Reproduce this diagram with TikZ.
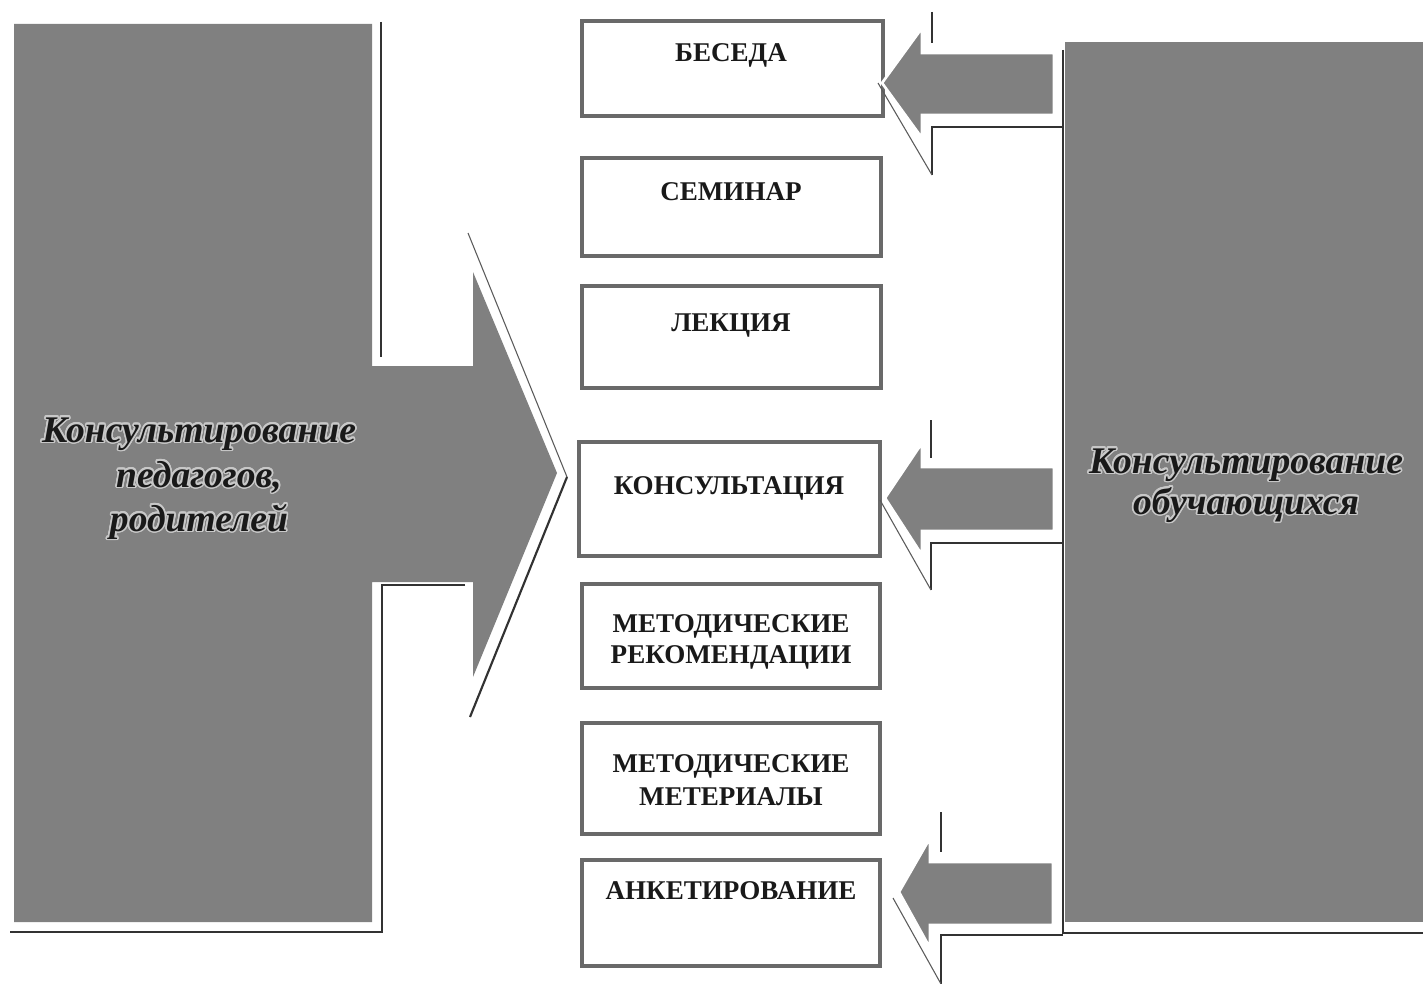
\documentclass[tikz,border=0pt]{standalone}
\usepackage{fontspec}
\setmainfont{Liberation Serif}
\usepackage{contour}
\contourlength{1.2pt}
\contournumber{24}
\definecolor{shapegray}{RGB}{128,128,128}
\definecolor{bordergray}{RGB}{105,105,105}
\definecolor{shadowdark}{RGB}{50,50,50}
\definecolor{labeltext}{RGB}{25,25,25}
\definecolor{glow}{RGB}{200,200,200}
\tikzset{
  bigshape/.style={fill=shapegray, draw=none},
  arrowshape/.style={fill=shapegray, draw=white, line width=2pt, line join=miter},
  shadowline/.style={draw=shadowdark, line width=1.6pt},
  thinshadow/.style={draw=shadowdark!80, line width=0.8pt},
  box/.style={draw=bordergray, line width=3pt, fill=white, inner sep=0pt, outer sep=0pt},
  boxtext/.style={font=\fontsize{20.3}{23}\selectfont\bfseries, anchor=base, inner sep=0pt, text=black!90},
  biglabel/.style={font=\fontsize{28.2}{32}\selectfont\bfseries\itshape, anchor=base, inner sep=0pt, text=labeltext}
}
\begin{document}
\begin{tikzpicture}[x=0.75pt, y=-0.75pt]
\useasboundingbox (0,0) rectangle (1423,984);
\fill[white] (0,0) rectangle (1423,984);

% ---------- left shape: shadow lines ----------
\draw[shadowline] (381,22) -- (381,357);
\draw[thinshadow] (468,233) -- (567,477);
\draw[shadowline] (567,477) -- (470,717);
\draw[shadowline] (465,585) -- (382,585) -- (382,932) -- (10,932);
% left shape
\path[bigshape] (14,24) -- (372,24) -- (372,366) -- (473,366) -- (473,272)
  -- (557,473) -- (473,677) -- (473,582) -- (372,582) -- (372,922) -- (14,922) -- cycle;

% ---------- right rectangle ----------
\draw[shadowline] (1063,50) -- (1063,933) -- (1423,933);
\path[bigshape] (1065,42) rectangle (1423,922);

% ---------- boxes ----------
\node[box, minimum width=225.75pt, minimum height=71.25pt] (b1) at (732.5,68.5) {};
\node[box, minimum width=224.25pt, minimum height=73.5pt] (b2) at (731.5,207) {};
\node[box, minimum width=224.25pt, minimum height=76.5pt] (b3) at (731.5,337) {};
\node[box, minimum width=225.75pt, minimum height=85.5pt] (b4) at (729.5,499) {};
\node[box, minimum width=223.5pt, minimum height=78pt] (b5) at (731,636) {};
\node[box, minimum width=223.5pt, minimum height=83.25pt] (b6) at (731,778.5) {};
\node[box, minimum width=223.5pt, minimum height=79.5pt] (b7) at (731,913) {};

\node[boxtext] (t1) at (731,62) {БЕСЕДА};
\node[boxtext] (t2) at (731,201) {СЕМИНАР};
\node[boxtext] (t3) at (731,331) {ЛЕКЦИЯ};
\node[boxtext] (t4) at (729,494) {КОНСУЛЬТАЦИЯ};
\node[boxtext] (t5a) at (731,632) {МЕТОДИЧЕСКИЕ};
\node[boxtext] (t5b) at (731,663) {РЕКОМЕНДАЦИИ};
\node[boxtext] (t6a) at (731,772) {МЕТОДИЧЕСКИЕ};
\node[boxtext] (t6b) at (731,805) {МЕТЕРИАЛЫ};
\node[boxtext] (t7) at (731,899) {АНКЕТИРОВАНИЕ};

% ---------- right arrows ----------
% arrow 1
\draw[shadowline] (932,12) -- (932,43);
\draw[shadowline] (1063,127) -- (932,127) -- (932,175);
\draw[thinshadow] (878,83) -- (932,175);
\path[arrowshape] (882,83) -- (922,28) -- (922,53) -- (1054,53) -- (1054,115)
  -- (922,115) -- (922,138) -- cycle;
% arrow 2
\draw[shadowline] (931,420) -- (931,458);
\draw[shadowline] (1063,543) -- (931,543) -- (931,590);
\draw[thinshadow] (880,500) -- (931,590);
\path[arrowshape] (885,498) -- (922,443) -- (922,467) -- (1054,467) -- (1054,531)
  -- (922,531) -- (922,555) -- cycle;
% arrow 3
\draw[shadowline] (941,812) -- (941,852);
\draw[shadowline] (1063,935) -- (941,935) -- (941,984);
\draw[thinshadow] (893,898) -- (941,984);
\path[arrowshape] (899,892) -- (930,838) -- (930,862) -- (1053,862) -- (1053,925)
  -- (930,925) -- (930,948) -- cycle;

% ---------- labels ----------
\node[biglabel] (l1) at (199,442) {\contour{glow}{Консультирование}};
\node[biglabel] (l2) at (199,487) {\contour{glow}{педагогов,}};
\node[biglabel] (l3) at (199,531) {\contour{glow}{родителей}};
\node[biglabel] (r1) at (1246,473) {\contour{glow}{Консультирование}};
\node[biglabel] (r2) at (1246,514) {\contour{glow}{обучающихся}};
\end{tikzpicture}
\end{document}
